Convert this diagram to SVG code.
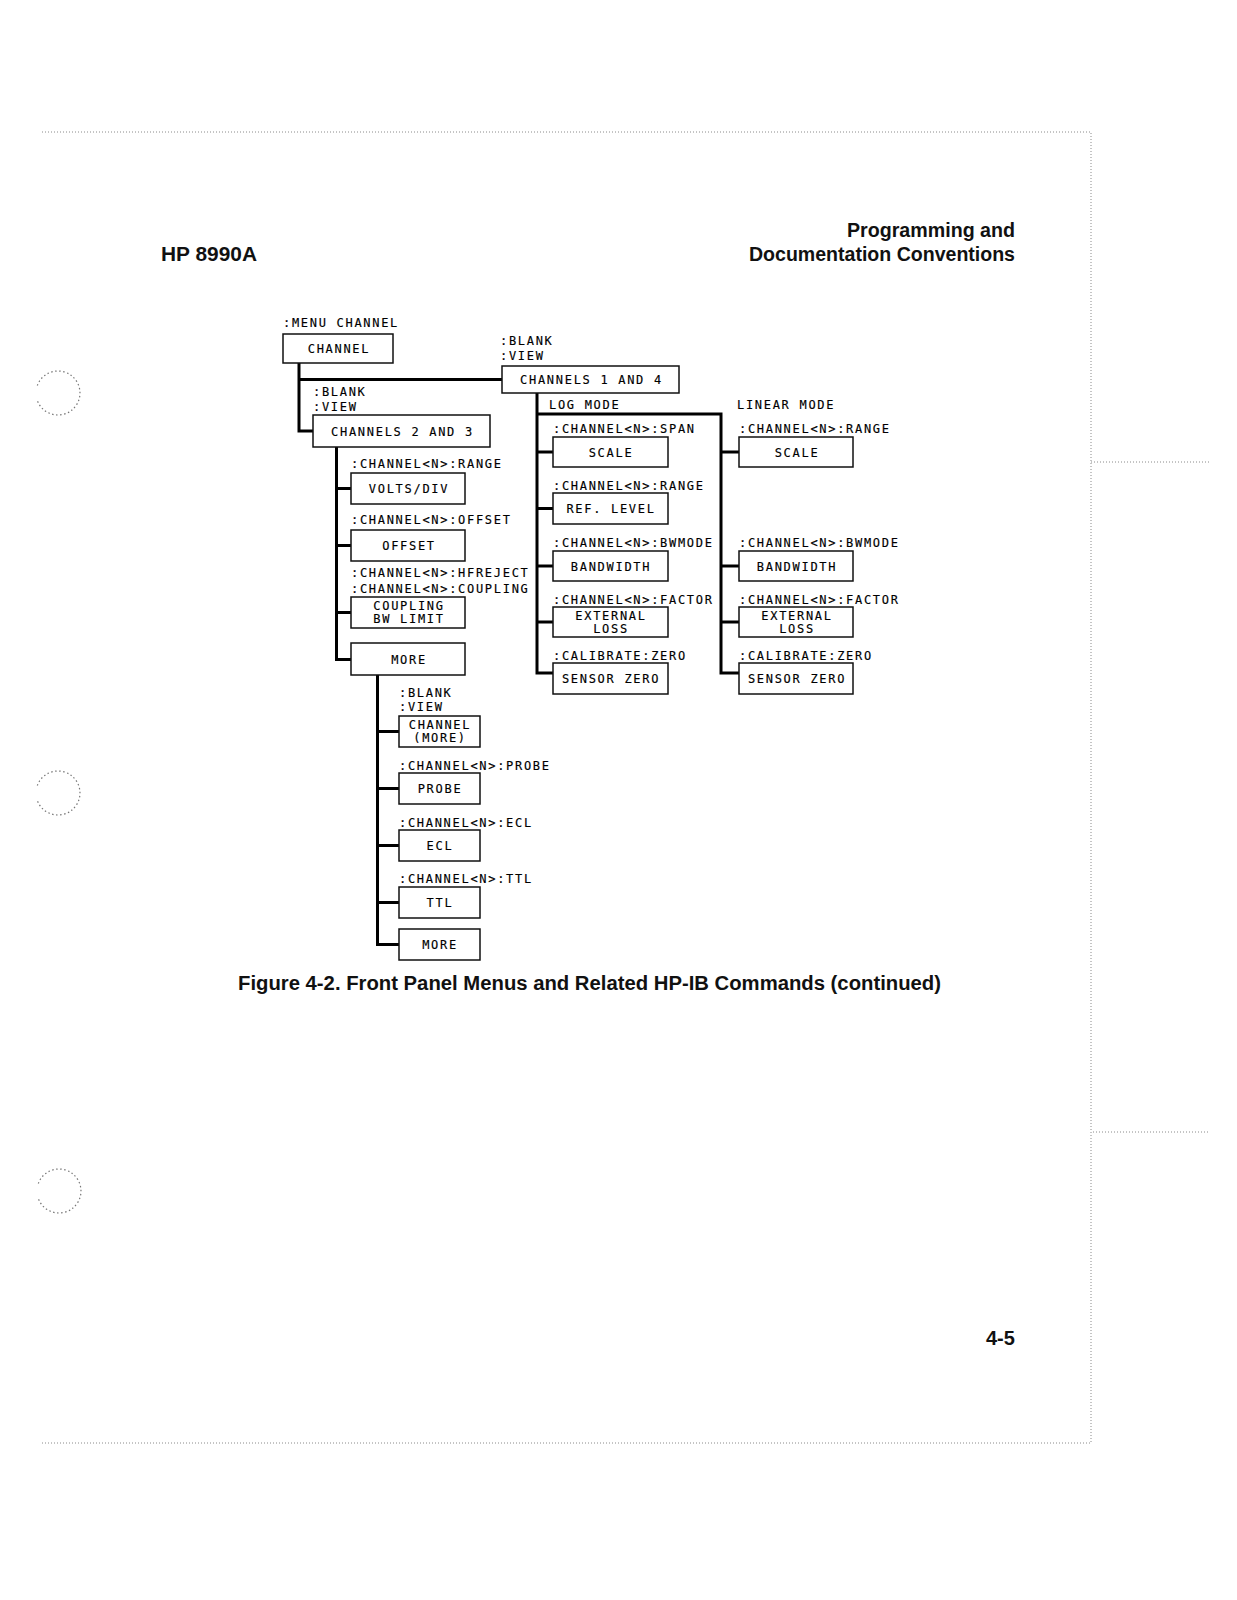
<svg xmlns="http://www.w3.org/2000/svg" width="1237" height="1600" viewBox="0 0 1237 1600">
<style>
.bg{fill:#fff}
.box{fill:#fff;stroke:#111;stroke-width:1.5}
.t{font-family:"DejaVu Sans Mono","Liberation Mono",monospace;font-size:12px;letter-spacing:1.7px;fill:#000;stroke:#000;stroke-width:0.15}
.c{text-anchor:middle}
.conn{fill:none;stroke:#000;stroke-width:3;stroke-linejoin:miter}
.h{font-family:"Liberation Sans",Arial,sans-serif;font-weight:bold;font-size:20px;fill:#111}
.r{text-anchor:end}
.dot{fill:none;stroke:#8a8a8a;stroke-width:1;stroke-dasharray:1 2}
.hole{fill:none;stroke:#777;stroke-width:1.2;stroke-dasharray:1.5 2.5}
</style>
<rect class="bg" x="0" y="0" width="1237" height="1600"/>

<g id="page">
<path class="dot" d="M42,132 H1091 V1443 H40"/>
<path class="dot" d="M1091,462 H1210"/>
<path class="dot" d="M1093,1132 H1208"/>
<path class="hole" d="M37.3,385.5 A22,22 0 1 1 37.3,400.5"/>
<path class="hole" d="M37.3,785.5 A22,22 0 1 1 37.3,800.5"/>
<path class="hole" d="M38.3,1183.5 A22,22 0 1 1 38.3,1198.5"/>
</g>

<g id="header">
<text class="h" x="161" y="261" textLength="96" lengthAdjust="spacingAndGlyphs">HP 8990A</text>
<text class="h r" x="1015" y="237" textLength="168" lengthAdjust="spacingAndGlyphs">Programming and</text>
<text class="h r" x="1015" y="261" textLength="266" lengthAdjust="spacingAndGlyphs">Documentation Conventions</text>
</g>

<g id="connectors">
<path class="conn" d="M299,363 V431 H313"/>
<path class="conn" d="M299,379.5 H502"/>
<path class="conn" d="M336.5,447 V659.5 H351"/>
<path class="conn" d="M336.5,488.5 H351"/>
<path class="conn" d="M336.5,545.5 H351"/>
<path class="conn" d="M336.5,612.5 H351"/>
<path class="conn" d="M377.5,675 V944.5 H399"/>
<path class="conn" d="M377.5,731.5 H399"/>
<path class="conn" d="M377.5,788.5 H399"/>
<path class="conn" d="M377.5,845.5 H399"/>
<path class="conn" d="M377.5,902.5 H399"/>
<path class="conn" d="M537,393 V673 H553"/>
<path class="conn" d="M537,414 H721 V673 H739"/>
<path class="conn" d="M537,452 H553"/>
<path class="conn" d="M537,508.5 H553"/>
<path class="conn" d="M537,566 H553"/>
<path class="conn" d="M537,622 H553"/>
<path class="conn" d="M721,452 H739"/>
<path class="conn" d="M721,566 H739"/>
<path class="conn" d="M721,622 H739"/>
</g>

<g id="n-channel">
<text class="t" x="283" y="327">:MENU CHANNEL</text>
<rect class="box" x="283" y="334" width="110" height="29"/>
<text class="t c" x="339" y="353">CHANNEL</text>
</g>

<g id="n-ch14">
<text class="t" x="500" y="345">:BLANK</text>
<text class="t" x="500" y="360">:VIEW</text>
<rect class="box" x="502" y="366" width="177" height="27"/>
<text class="t c" x="591.5" y="384">CHANNELS 1 AND 4</text>
</g>

<g id="n-ch23">
<text class="t" x="313" y="396">:BLANK</text>
<text class="t" x="313" y="411">:VIEW</text>
<rect class="box" x="313" y="415" width="177" height="32"/>
<text class="t c" x="402.5" y="435.5">CHANNELS 2 AND 3</text>
</g>

<g id="n-volts">
<text class="t" x="351" y="468">:CHANNEL&lt;N&gt;:RANGE</text>
<rect class="box" x="351" y="473" width="114" height="31"/>
<text class="t c" x="409" y="493">VOLTS/DIV</text>
</g>

<g id="n-offset">
<text class="t" x="351" y="524">:CHANNEL&lt;N&gt;:OFFSET</text>
<rect class="box" x="351" y="530" width="114" height="31"/>
<text class="t c" x="409" y="550">OFFSET</text>
</g>

<g id="n-coupling">
<text class="t" x="351" y="577">:CHANNEL&lt;N&gt;:HFREJECT</text>
<text class="t" x="351" y="593">:CHANNEL&lt;N&gt;:COUPLING</text>
<rect class="box" x="351" y="597" width="114" height="31"/>
<text class="t c" x="409" y="610">COUPLING</text>
<text class="t c" x="409" y="623">BW LIMIT</text>
</g>

<g id="n-more1">
<rect class="box" x="351" y="643" width="114" height="32"/>
<text class="t c" x="409" y="663.5">MORE</text>
</g>

<g id="n-chmore">
<text class="t" x="399" y="697">:BLANK</text>
<text class="t" x="399" y="711">:VIEW</text>
<rect class="box" x="399" y="716" width="81" height="31"/>
<text class="t c" x="440" y="729">CHANNEL</text>
<text class="t c" x="440" y="742">(MORE)</text>
</g>

<g id="n-probe">
<text class="t" x="399" y="770">:CHANNEL&lt;N&gt;:PROBE</text>
<rect class="box" x="399" y="773" width="81" height="31"/>
<text class="t c" x="440" y="793">PROBE</text>
</g>

<g id="n-ecl">
<text class="t" x="399" y="827">:CHANNEL&lt;N&gt;:ECL</text>
<rect class="box" x="399" y="830" width="81" height="31"/>
<text class="t c" x="440" y="850">ECL</text>
</g>

<g id="n-ttl">
<text class="t" x="399" y="883">:CHANNEL&lt;N&gt;:TTL</text>
<rect class="box" x="399" y="887" width="81" height="31"/>
<text class="t c" x="440" y="907">TTL</text>
</g>

<g id="n-more2">
<rect class="box" x="399" y="929" width="81" height="31"/>
<text class="t c" x="440" y="949">MORE</text>
</g>

<g id="n-logmode">
<text class="t" x="549" y="409">LOG MODE</text>
</g>
<g id="n-linmode">
<text class="t" x="737" y="409">LINEAR MODE</text>
</g>

<g id="n-log-scale">
<text class="t" x="553" y="433">:CHANNEL&lt;N&gt;:SPAN</text>
<rect class="box" x="553" y="437" width="115" height="30"/>
<text class="t c" x="611" y="456.5">SCALE</text>
</g>
<g id="n-log-ref">
<text class="t" x="553" y="490">:CHANNEL&lt;N&gt;:RANGE</text>
<rect class="box" x="553" y="493" width="115" height="31"/>
<text class="t c" x="611" y="513">REF. LEVEL</text>
</g>
<g id="n-log-bw">
<text class="t" x="553" y="547">:CHANNEL&lt;N&gt;:BWMODE</text>
<rect class="box" x="553" y="551" width="115" height="30"/>
<text class="t c" x="611" y="570.5">BANDWIDTH</text>
</g>
<g id="n-log-ext">
<text class="t" x="553" y="604">:CHANNEL&lt;N&gt;:FACTOR</text>
<rect class="box" x="553" y="607" width="115" height="30"/>
<text class="t c" x="611" y="620">EXTERNAL</text>
<text class="t c" x="611" y="633">LOSS</text>
</g>
<g id="n-log-zero">
<text class="t" x="553" y="660">:CALIBRATE:ZERO</text>
<rect class="box" x="553" y="663" width="115" height="31"/>
<text class="t c" x="611" y="683">SENSOR ZERO</text>
</g>

<g id="n-lin-scale">
<text class="t" x="739" y="433">:CHANNEL&lt;N&gt;:RANGE</text>
<rect class="box" x="739" y="437" width="114" height="30"/>
<text class="t c" x="797" y="456.5">SCALE</text>
</g>
<g id="n-lin-bw">
<text class="t" x="739" y="547">:CHANNEL&lt;N&gt;:BWMODE</text>
<rect class="box" x="739" y="551" width="114" height="30"/>
<text class="t c" x="797" y="570.5">BANDWIDTH</text>
</g>
<g id="n-lin-ext">
<text class="t" x="739" y="604">:CHANNEL&lt;N&gt;:FACTOR</text>
<rect class="box" x="739" y="607" width="114" height="30"/>
<text class="t c" x="797" y="620">EXTERNAL</text>
<text class="t c" x="797" y="633">LOSS</text>
</g>
<g id="n-lin-zero">
<text class="t" x="739" y="660">:CALIBRATE:ZERO</text>
<rect class="box" x="739" y="663" width="114" height="31"/>
<text class="t c" x="797" y="683">SENSOR ZERO</text>
</g>

<g id="caption">
<text class="h" x="238" y="990" textLength="703" lengthAdjust="spacingAndGlyphs">Figure 4-2. Front Panel Menus and Related HP-IB Commands (continued)</text>
<text class="h" x="986" y="1345">4-5</text>
</g>
</svg>
